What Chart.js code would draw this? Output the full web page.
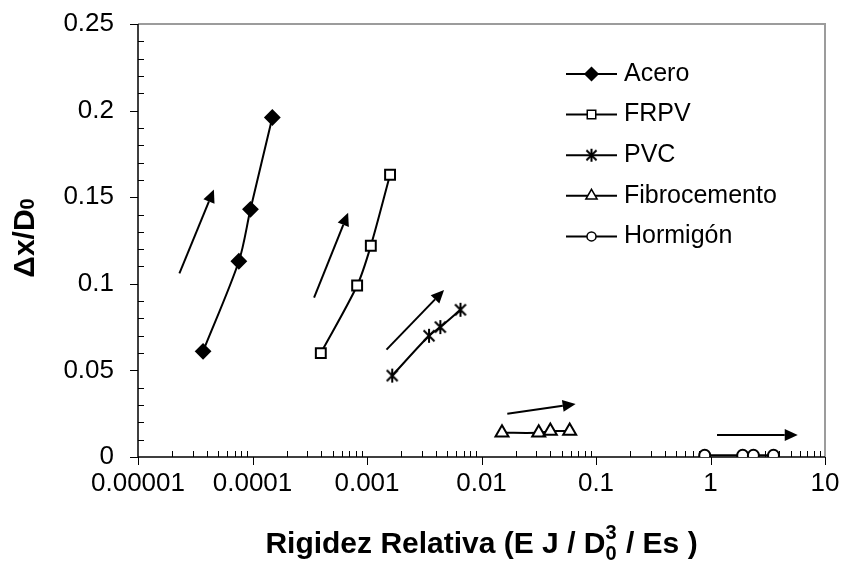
<!DOCTYPE html>
<html>
<head>
<meta charset="utf-8">
<script src="https://cdn.jsdelivr.net/npm/chart.js@4.4.1/dist/chart.umd.min.js"></script>
<style>
html, body { margin: 0; padding: 0; background: #fff; }
#wrap { width: 843px; height: 573px; }
</style>
</head>
<body>
<div id="wrap"><canvas id="myChart" width="843" height="573"></canvas></div>
<script>
// series values
var seriesNames = ['Acero', 'FRPV', 'PVC', 'Fibrocemento', 'Hormigón'];
var aceroX = [3.7e-5, 7.6e-5, 9.6e-5, 1.49e-4];
var aceroY = [0.061, 0.113, 0.143, 0.196];
var frpvX = [3.95e-4, 8.2e-4, 1.08e-3, 1.59e-3];
var frpvY = [0.060, 0.099, 0.122, 0.163];
var pvcX = [1.66e-3, 3.48e-3, 4.37e-3, 6.55e-3];
var pvcY = [0.047, 0.070, 0.075, 0.085];
var fibroX = [0.0151, 0.0316, 0.0399, 0.0589];
var fibroY = [0.014, 0.014, 0.015, 0.015];
var hormX = [0.89, 1.91, 2.37, 3.55];
var hormY = [0.001, 0.001, 0.001, 0.001];

// trend arrows, in data units
var arrowX0 = [2.3e-5, 3.45e-4, 1.48e-3, 0.0168, 1.14];
var arrowY0 = [0.106, 0.092, 0.062, 0.025, 0.0127];
var arrowX1 = [4.6e-5, 6.84e-4, 4.71e-3, 0.0664, 5.78];
var arrowY1 = [0.1545, 0.141, 0.0964, 0.0306, 0.0127];

var xTicks = [0.00001, 0.0001, 0.001, 0.01, 0.1, 1, 10];
var xTickLabels = ['0.00001', '0.0001', '0.001', '0.01', '0.1', '1', '10'];
var yTicks = [0, 0.05, 0.1, 0.15, 0.2, 0.25];
var yTickLabels = ['0', '0.05', '0.1', '0.15', '0.2', '0.25'];

var FONT = '"Liberation Sans", Arial, sans-serif';

// asterisk marker (vertical bar + X)
function makeStar(size) {
	var c = document.createElement('canvas');
	c.width = size; c.height = size;
	var g = c.getContext('2d');
	var h = size / 2, r = h - 1, d = r * 0.78;
	g.strokeStyle = '#000';
	g.lineWidth = 2;
	g.beginPath();
	g.moveTo(h, h - r); g.lineTo(h, h + r);
	g.moveTo(h - d, h - d); g.lineTo(h + d, h + d);
	g.moveTo(h + d, h - d); g.lineTo(h - d, h + d);
	g.stroke();
	return c;
}
var starBig = makeStar(16);
var starSmall = makeStar(15);

function makeSet(label, xs, ys, style, radius, fill) {
	return {
		label: label,
		data: xs.map(function(x, i) { return { x: x, y: ys[i] }; }),
		showLine: true,
		borderColor: '#000',
		borderWidth: 2,
		tension: 0.3,
		pointStyle: style,
		pointRadius: radius,
		pointHoverRadius: radius,
		pointBackgroundColor: fill,
		pointBorderColor: '#000',
		pointBorderWidth: 2
	};
}

var sets = [
	makeSet(seriesNames[0], aceroX, aceroY, 'rectRot', 7, '#000'),
	makeSet(seriesNames[1], frpvX, frpvY, 'rect', 7, '#fff'),
	makeSet(seriesNames[2], pvcX, pvcY, starBig, 7, '#000'),
	makeSet(seriesNames[3], fibroX, fibroY, 'triangle', 7.5, '#fff'),
	makeSet(seriesNames[4], hormX, hormY, 'circle', 5.5, '#fff')
];
var legendStyles = ['rectRot', 'rect', starSmall, 'triangle', 'circle'];
var legendRadius = [6.5, 6, 6, 6.5, 4.5];

var extras = {
	id: 'extras',
	beforeDatasetsDraw: function(chart) {
		var ctx = chart.ctx, a = chart.chartArea;
		var xs = chart.scales.x, ys = chart.scales.y;
		ctx.save();
		// grey frame top / right
		ctx.strokeStyle = '#9c9c9c';
		ctx.lineWidth = 2;
		ctx.beginPath();
		ctx.moveTo(a.left, a.top); ctx.lineTo(a.right, a.top); ctx.lineTo(a.right, a.bottom);
		ctx.stroke();
		// axes
		ctx.strokeStyle = '#000';
		ctx.lineWidth = 1.5;
		ctx.beginPath();
		ctx.moveTo(a.left, a.top); ctx.lineTo(a.left, a.bottom); ctx.lineTo(a.right, a.bottom);
		ctx.stroke();
		ctx.lineWidth = 1;
		ctx.beginPath();
		// y ticks
		for (var k = 0; k <= 25; k++) {
			var py = Math.round(ys.getPixelForValue(k / 100)) + 0.5;
			if (k % 5 === 0) { ctx.moveTo(a.left - 8, py); ctx.lineTo(a.left, py); }
			else { ctx.moveTo(a.left, py); ctx.lineTo(a.left + 6, py); }
		}
		// x ticks
		for (var e = -5; e <= 1; e++) {
			var px = Math.round(xs.getPixelForValue(Math.pow(10, e))) + 0.5;
			ctx.moveTo(px, a.bottom); ctx.lineTo(px, a.bottom + 8);
			if (e < 1) {
				for (var m = 2; m <= 9; m++) {
					var qx = Math.round(xs.getPixelForValue(m * Math.pow(10, e))) + 0.5;
					ctx.moveTo(qx, a.bottom); ctx.lineTo(qx, a.bottom - 6);
				}
			}
		}
		ctx.stroke();
		ctx.restore();
	},
	afterDatasetsDraw: function(chart) {
		var ctx = chart.ctx, a = chart.chartArea;
		var xs = chart.scales.x, ys = chart.scales.y;
		ctx.save();
		// arrows
		ctx.strokeStyle = '#000';
		ctx.fillStyle = '#000';
		ctx.lineWidth = 2;
		for (var i = 0; i < arrowX0.length; i++) {
			var x0 = xs.getPixelForValue(arrowX0[i]), y0 = ys.getPixelForValue(arrowY0[i]);
			var x1 = xs.getPixelForValue(arrowX1[i]), y1 = ys.getPixelForValue(arrowY1[i]);
			var ang = Math.atan2(y1 - y0, x1 - x0);
			var hl = 13, hw = 6;
			var bx = x1 - hl * Math.cos(ang), by = y1 - hl * Math.sin(ang);
			ctx.beginPath();
			ctx.moveTo(x0, y0); ctx.lineTo(bx, by);
			ctx.stroke();
			ctx.beginPath();
			ctx.moveTo(x1, y1);
			ctx.lineTo(bx + hw * Math.sin(ang), by - hw * Math.cos(ang));
			ctx.lineTo(bx - hw * Math.sin(ang), by + hw * Math.cos(ang));
			ctx.closePath();
			ctx.fill();
		}
		// legend
		ctx.font = '25px ' + FONT;
		ctx.textBaseline = 'middle';
		ctx.textAlign = 'left';
		for (var j = 0; j < seriesNames.length; j++) {
			var ly = 74 + j * 40.6;
			ctx.strokeStyle = '#000';
			ctx.lineWidth = 2;
			ctx.beginPath();
			ctx.moveTo(566, ly); ctx.lineTo(617, ly);
			ctx.stroke();
			ctx.fillStyle = sets[j].pointBackgroundColor;
			ctx.lineWidth = 1.5;
			Chart.helpers.drawPoint(ctx, { pointStyle: legendStyles[j], radius: legendRadius[j], borderWidth: 1.5, rotation: 0 }, 591.5, ly);
			ctx.fillStyle = '#000';
			ctx.fillText(seriesNames[j], 624, ly);
		}
		// x axis title with D0^3
		var cx = (a.left + a.right) / 2, by2 = 553;
		var p1 = 'Rigidez Relativa (E J / D', p3 = ' / Es )';
		ctx.font = 'bold 30px ' + FONT;
		var w1 = ctx.measureText(p1).width, w3 = ctx.measureText(p3).width;
		ctx.font = 'bold 20px ' + FONT;
		var w2 = ctx.measureText('0').width + 1;
		var sx = cx - (w1 + w2 + w3) / 2;
		ctx.textBaseline = 'alphabetic';
		ctx.font = 'bold 30px ' + FONT;
		ctx.fillText(p1, sx, by2);
		ctx.font = 'bold 20px ' + FONT;
		ctx.fillText('0', sx + w1, by2 + 7);
		ctx.fillText('3', sx + w1, by2 - 14);
		ctx.font = 'bold 30px ' + FONT;
		ctx.fillText(p3, sx + w1 + w2, by2);
		// y axis title
		ctx.translate(34, 238);
		ctx.rotate(-Math.PI / 2);
		ctx.font = 'bold 30px ' + FONT;
		var t1 = '\u0394x/D';
		var tw = ctx.measureText(t1).width;
		ctx.font = 'bold 20px ' + FONT;
		var tw2 = ctx.measureText('0').width;
		var tx = -(tw + tw2) / 2;
		ctx.font = 'bold 30px ' + FONT;
		ctx.fillText(t1, tx, 0);
		ctx.font = 'bold 20px ' + FONT;
		ctx.fillText('0', tx + tw, 0);
		ctx.restore();
	}
};

var ctx = document.getElementById('myChart');
var chart = new Chart(ctx, {
	type: 'scatter',
	data: { datasets: sets },
	options: {
		responsive: false,
		animation: false,
		events: [],
		layout: { padding: { top: 24, right: 18, left: 0, bottom: 0 } },
		plugins: { legend: { display: false }, tooltip: { enabled: false } },
		scales: {
			x: {
				type: 'logarithmic',
				min: 0.00001,
				max: 10,
				afterBuildTicks: function(s) { s.ticks = xTicks.map(function(v) { return { value: v }; }); },
				afterFit: function(s) { s.height = 116; s.paddingLeft = 0; s.paddingRight = 0; },
				grid: { display: false },
				border: { display: false },
				ticks: {
					autoSkip: false,
					maxRotation: 0,
					padding: 3,
					color: '#000',
					font: { family: FONT, size: 26 },
					callback: function(v, i) { return xTickLabels[i]; }
				}
			},
			y: {
				type: 'linear',
				min: 0,
				max: 0.25,
				afterBuildTicks: function(s) { s.ticks = yTicks.map(function(v) { return { value: v }; }); },
				afterFit: function(s) { s.width = 138; s.paddingTop = 0; s.paddingBottom = 0; },
				grid: { display: false },
				border: { display: false },
				ticks: {
					padding: 16,
					color: '#000',
					font: { family: FONT, size: 26 },
					callback: function(v, i) { return yTickLabels[i]; }
				}
			}
		}
	},
	plugins: [extras]
});
</script>
</body>
</html>
